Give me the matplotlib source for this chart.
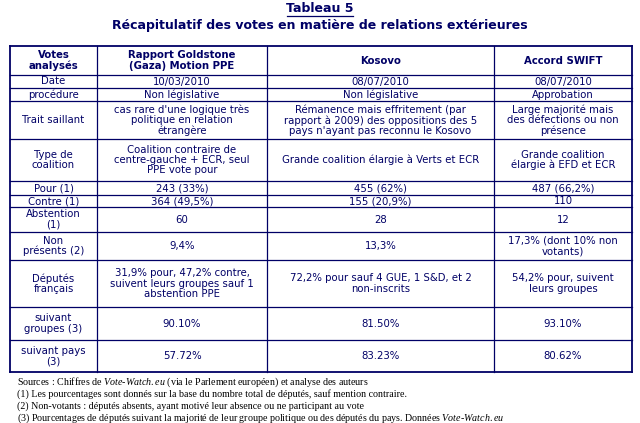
import matplotlib
matplotlib.use("Agg")
import matplotlib.pyplot as plt
from matplotlib.lines import Line2D

plt.rcParams["mathtext.fontset"] = "custom"
plt.rcParams["mathtext.rm"] = "Liberation Serif"
plt.rcParams["mathtext.it"] = "Liberation Serif:italic"

W, H = 640, 423
header = ["Votes\nanalysés", "Rapport Goldstone\n(Gaza) Motion PPE", "Kosovo", "Accord SWIFT"]
row_labels = ["Date", "procédure", "Trait saillant", "Type de\ncoalition", "Pour (1)", "Contre (1)",
              "Abstention\n(1)", "Non\nprésents (2)", "Députés\nfrançais", "suivant\ngroupes (3)", "suivant pays\n(3)"]
goldstone = ["10/03/2010", "Non législative", "cas rare d'une logique très\npolitique en relation\nétrangère",
             "Coalition contraire de\ncentre-gauche + ECR, seul\nPPE vote pour", "243 (33%)", "364 (49,5%)", "60", "9,4%",
             "31,9% pour, 47,2% contre,\nsuivent leurs groupes sauf 1\nabstention PPE", "90.10%", "57.72%"]
kosovo = ["08/07/2010", "Non législative", "Rémanence mais effritement (par\nrapport à 2009) des oppositions des 5\npays n'ayant pas reconnu le Kosovo",
          "Grande coalition élargie à Verts et ECR", "455 (62%)", "155 (20,9%)", "28", "13,3%",
          "72,2% pour sauf 4 GUE, 1 S&D, et 2\nnon-inscrits", "81.50%", "83.23%"]
swift = ["08/07/2010", "Approbation", "Large majorité mais\ndes défections ou non\nprésence",
         "Grande coalition\nélargie à EFD et ECR", "487 (66,2%)", "110", "12", "17,3% (dont 10% non\nvotants)",
         "54,2% pour, suivent\nleurs groupes", "93.10%", "80.62%"]
footnotes = ["Sources : Chiffres de $\\it{Vote}$-$\\it{Watch.eu}$ (via le Parlement européen) et analyse des auteurs",
             "(1) Les pourcentages sont donnés sur la base du nombre total de députés, sauf mention contraire.",
             "(2) Non-votants : députés absents, ayant motivé leur absence ou ne participant au vote",
             "(3) Pourcentages de députés suivant la majorité de leur groupe politique ou des députés du pays. Données $\\it{Vote}$-$\\it{Watch.eu}$"]

col_x = [10, 97, 267, 494, 632]
row_y = [46, 75, 88, 101, 139, 181, 195, 207, 232, 260, 307, 340, 372]
navy = "#000066"

fig = plt.figure(figsize=(6.4, 4.23), dpi=100)
fig.patch.set_facecolor("white")
fx = lambda x: x / W
fy = lambda y: 1 - y / H

fig.text(fx(320), fy(9), "Tableau 5", ha="center", va="center", fontsize=9, weight="bold", color=navy)
fig.add_artist(Line2D([fx(287), fx(353)], [fy(16.5), fy(16.5)], color=navy, lw=0.9))
fig.text(fx(320), fy(26), "Récapitulatif des votes en matière de relations extérieures",
         ha="center", va="center", fontsize=9, weight="bold", color=navy)

for x in col_x:
    fig.add_artist(Line2D([fx(x), fx(x)], [fy(row_y[0]), fy(row_y[-1])], color=navy, lw=1.3 if x in (10, 632) else 0.9))
for y in row_y:
    fig.add_artist(Line2D([fx(col_x[0]), fx(col_x[-1])], [fy(y), fy(y)], color=navy, lw=1.3 if y in (46, 372) else 0.9))

def cell(ci, y0, y1, txt, bold=False):
    cx = (col_x[ci] + col_x[ci + 1]) / 2
    cy = (y0 + y1) / 2
    fig.text(fx(cx), fy(cy), txt, ha="center", va="center", fontsize=7.3, color=navy,
             weight="bold" if bold else "normal", linespacing=1.05)

for ci, h in enumerate(header):
    cell(ci, row_y[0], row_y[1], h, bold=True)
for ri in range(len(row_labels)):
    y0, y1 = row_y[ri + 1], row_y[ri + 2]
    for ci, col in enumerate([row_labels, goldstone, kosovo, swift]):
        cell(ci, y0, y1, col[ri])

fs = 7.2
for i, f in enumerate(footnotes):
    fig.text(fx(17), fy(382 + i * 12), f, ha="left", va="center", fontsize=fs,
             family="Liberation Serif", color="black")

# underline "majorité"
fig.canvas.draw()
r = fig.canvas.get_renderer()
pre = fig.text(0, 0, "(3) Pourcentages de députés suivant la ", fontsize=fs, family="Liberation Serif")
word = fig.text(0, 0, "majorité", fontsize=fs, family="Liberation Serif")
w0 = pre.get_window_extent(r).width
w1 = word.get_window_extent(r).width
pre.remove(); word.remove()
yy = 382 + 3 * 12 + 5
fig.add_artist(Line2D([fx(17 + w0), fx(17 + w0 + w1)], [fy(yy), fy(yy)], color="black", lw=0.6))

fig.savefig("out.png", dpi=100, facecolor="white")
